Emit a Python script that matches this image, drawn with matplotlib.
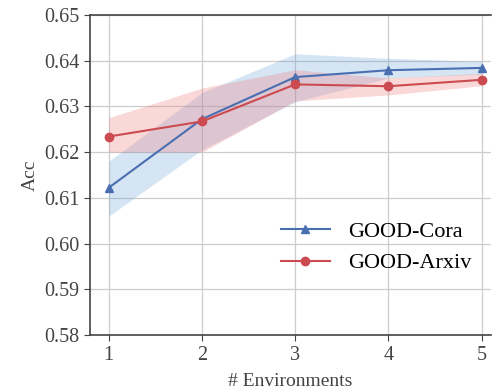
import matplotlib
matplotlib.use("Agg")
import matplotlib.pyplot as plt
import numpy as np

envs = [1, 2, 3, 4, 5]
cora_mean = [0.6122, 0.6272, 0.6364, 0.6379, 0.6384]
cora_low = [0.6060, 0.6205, 0.6310, 0.6362, 0.6370]
cora_high = [0.6180, 0.6330, 0.6415, 0.6405, 0.6398]
arxiv_mean = [0.6234, 0.6267, 0.6348, 0.6344, 0.6358]
arxiv_low = [0.6200, 0.6200, 0.6312, 0.6325, 0.6345]
arxiv_high = [0.6275, 0.6340, 0.6380, 0.6362, 0.6372]
yticks = [0.58, 0.59, 0.60, 0.61, 0.62, 0.63, 0.64, 0.65]

plt.rcParams['font.family'] = ['Liberation Serif', 'DejaVu Serif']
fig, ax = plt.subplots(figsize=(4.92, 3.91), dpi=100)
fig.subplots_adjust(left=0.183, right=0.998, top=0.962, bottom=0.143)

blue = '#4a6fb0'
red = '#cc4b50'
ax.fill_between(envs, cora_low, cora_high, color='#5b9bd5', alpha=0.25, lw=0)
ax.fill_between(envs, arxiv_low, arxiv_high, color='#f08080', alpha=0.3, lw=0)
ax.plot(envs, cora_mean, color=blue, marker='^', ms=6, lw=1.5, label='GOOD-Cora')
ax.plot(envs, arxiv_mean, color=red, marker='o', ms=6, lw=1.5, label='GOOD-Arxiv')

ax.set_ylim(0.58, 0.65)
ax.set_xlim(0.8, 5.1)
ax.set_xticks(envs)
ax.set_yticks(yticks)
ax.set_yticklabels([f'{v:.2f}' for v in yticks])
ax.grid(True, color='#cccccc', lw=0.9)
ax.set_axisbelow(True)
for s in ['left', 'bottom', 'top']:
    ax.spines[s].set_color('#444444')
    ax.spines[s].set_linewidth(1.2)
ax.spines['right'].set_visible(False)
ax.tick_params(direction='out', length=4, color='#444444', labelsize=14.5, labelcolor='#444444')
ax.set_xlabel('# Environments', fontsize=14, color='#444444', labelpad=6)
ax.set_ylabel('Acc', fontsize=14, color='#444444')
ax.legend(loc='lower right', bbox_to_anchor=(1.0, 0.13), frameon=False, fontsize=16,
          handlelength=2.2)
fig.savefig('out.png', dpi=100)
